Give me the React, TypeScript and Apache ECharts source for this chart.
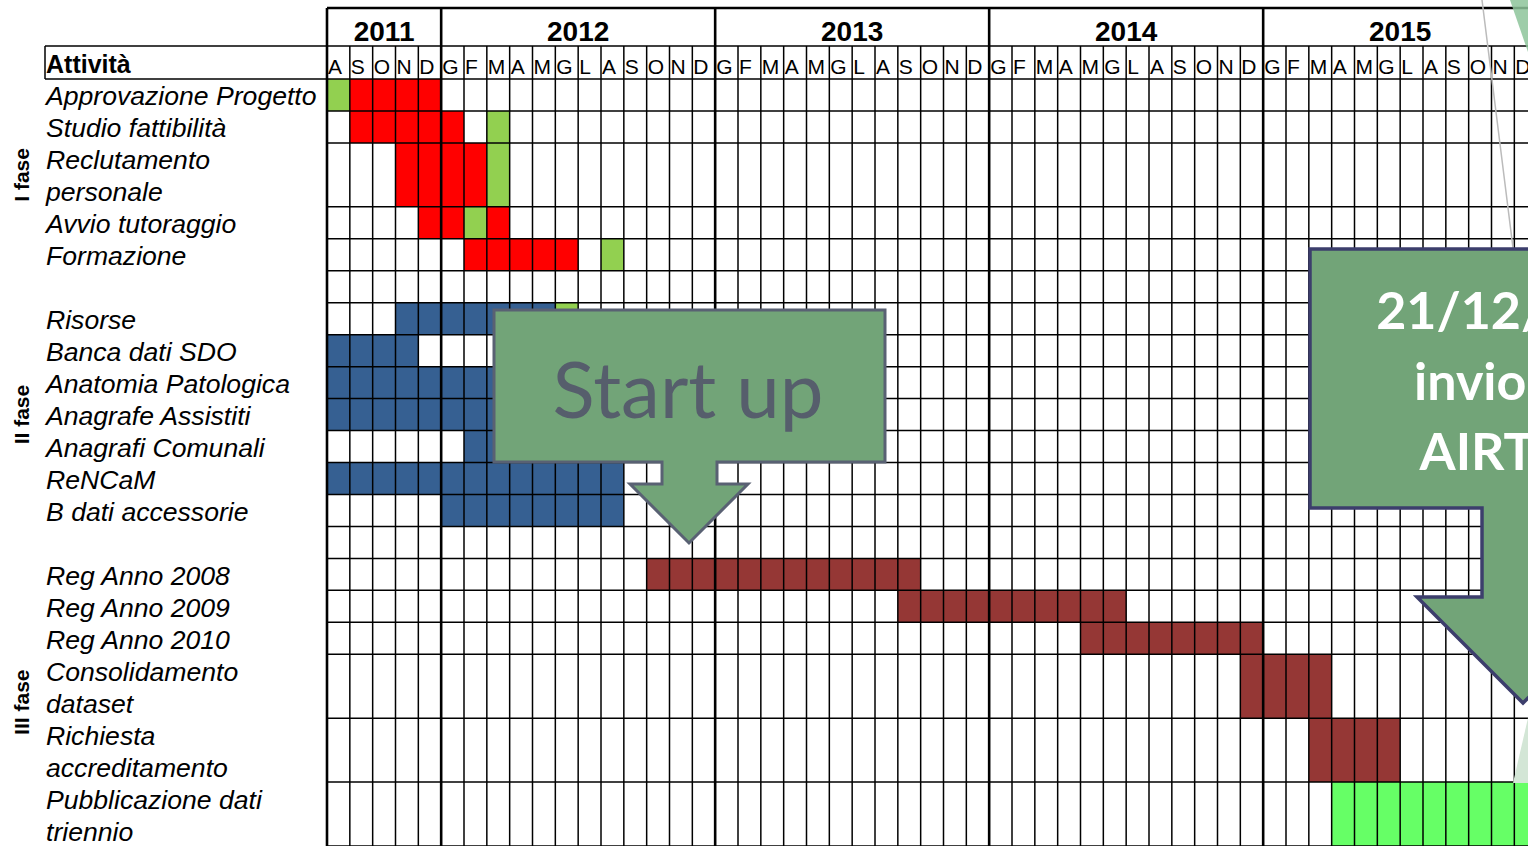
import React, { useEffect, useRef } from "react";
import * as echarts from "echarts";

// ---------- data ----------
const monthLabels = [
  "A", "S", "O", "N", "D",
  "G", "F", "M", "A", "M", "G", "L", "A", "S", "O", "N", "D",
  "G", "F", "M", "A", "M", "G", "L", "A", "S", "O", "N", "D",
  "G", "F", "M", "A", "M", "G", "L", "A", "S", "O", "N", "D",
  "G", "F", "M", "A", "M", "G", "L", "A", "S", "O", "N", "D",
];
const yearLabels = ["2011", "2012", "2013", "2014", "2015"];
const yearFirstMonth = [0, 5, 17, 29, 41];
const yearMonthCount = [5, 12, 12, 12, 12];

const activityLines = [
  ["Approvazione Progetto"],
  ["Studio fattibilità"],
  ["Reclutamento", "personale"],
  ["Avvio tutoraggio"],
  ["Formazione"],
  ["Risorse"],
  ["Banca dati SDO"],
  ["Anatomia Patologica"],
  ["Anagrafe Assistiti"],
  ["Anagrafi Comunali"],
  ["ReNCaM"],
  ["B dati accessorie"],
  ["Reg Anno 2008"],
  ["Reg Anno 2009"],
  ["Reg Anno 2010"],
  ["Consolidamento", "dataset"],
  ["Richiesta", "accreditamento"],
  ["Pubblicazione dati", "triennio"],
];
const activityRow = [0, 1, 2, 4, 5, 7, 8, 9, 10, 11, 12, 13, 15, 16, 17, 18, 20, 22];
const TOTAL_ROWS = 24;

const phaseLabels = ["I fase", "II fase", "III fase"];
const phaseFirstRow = [0, 7, 15];
const phaseEndRow = [6, 14, 24];

// [activity index, first month index, last month index]
const redCells = [[0, 1, 4], [1, 1, 5], [2, 3, 6], [3, 4, 5], [3, 7, 7], [4, 6, 10]];
const greenCells = [[0, 0, 0], [1, 7, 7], [2, 7, 7], [3, 6, 6], [4, 12, 12], [5, 10, 10]];
const blueCells = [[5, 3, 9], [6, 0, 3], [7, 0, 9], [8, 0, 9], [9, 6, 9], [10, 0, 12], [11, 5, 12]];
const brownCells = [[12, 14, 25], [13, 25, 34], [14, 33, 40], [15, 40, 43], [16, 43, 46]];
const publishCells = [[17, 44, 52]];

const callout1Text = "Start up";
const callout2Lines = ["21/12/2015", "invio dati", "AIRTUM"];

// ---------- layout ----------
const W = 1528;
const H = 846;
const GRID_LEFT = 327;
const GRID_TOP = 79;
const COL_W = 274 / 12;
const X_MAX = (W - GRID_LEFT) / COL_W;
const MONTH_ROW_H = 33;
const YEAR_ROW_H = 38;
const LABEL_X = 46;
const BOX_X = 45;
const ARIAL = "'Liberation Sans', Arial, sans-serif";
const CALIBRI = "Lato, 'Open Sans', sans-serif";

const rowBoundaries = Array.from(
  new Set(activityRow.flatMap((r, i) => [r, r + activityLines[i].length]))
).sort((a, b) => a - b);
const monthBoundaries = monthLabels.map((_, i) => i).concat([monthLabels.length]);

function cellSeries(name: string, cells: number[][], color: string) {
  return {
    type: "custom",
    name,
    z: 1,
    silent: true,
    clip: false,
    encode: { x: [0, 1], y: [2, 3] },
    data: cells.map(([a, s, e]) => [s, e + 1, activityRow[a], activityRow[a] + activityLines[a].length]),
    renderItem: (_p: any, api: any) => {
      const p0 = api.coord([api.value(0), api.value(2)]);
      const p1 = api.coord([api.value(1), api.value(3)]);
      return {
        type: "rect",
        shape: { x: p0[0], y: p0[1], width: p1[0] - p0[0], height: p1[1] - p0[1] },
        style: { fill: color },
      };
    },
  };
}

function txt(text: string, font: string, align: string, fill = "#000") {
  return {
    text,
    font,
    fill,
    align,
    verticalAlign: "middle",
    textAlign: align,
    textVerticalAlign: "middle",
  };
}

export default function App() {
  const ref = useRef<HTMLDivElement>(null);
  useEffect(() => {
    const chart = echarts.init(ref.current!, null, { renderer: "svg" });
    const option: any = {
      animation: false,
      backgroundColor: "#ffffff",
      grid: { left: GRID_LEFT, top: GRID_TOP, right: 0, bottom: -1 },
      xAxis: { type: "value", min: 0, max: X_MAX, show: false },
      yAxis: { type: "value", min: 0, max: TOTAL_ROWS, inverse: true, show: false },
      series: [
        cellSeries("Fase I", redCells, "#FF0000"),
        cellSeries("Milestone", greenCells, "#92D050"),
        cellSeries("Fase II", blueCells, "#366092"),
        cellSeries("Fase III", brownCells, "#953735"),
        cellSeries("Pubblicazione", publishCells, "#66FF66"),
        // horizontal grid lines
        {
          type: "custom",
          name: "rows",
          z: 3,
          silent: true,
          clip: false,
          data: rowBoundaries.map((r) => [r]),
          renderItem: (_p: any, api: any) => {
            const y = api.coord([0, api.value(0)])[1];
            const x2 = api.coord([X_MAX, 0])[0];
            const isTop = api.value(0) === 0;
            return {
              type: "line",
              shape: { x1: isTop ? BOX_X : GRID_LEFT, y1: y, x2, y2: y },
              style: { stroke: "#000", lineWidth: 1.5 },
            };
          },
        },
        // vertical grid lines
        {
          type: "custom",
          name: "months",
          z: 3,
          silent: true,
          clip: false,
          data: monthBoundaries.map((m) => [m]),
          renderItem: (_p: any, api: any) => {
            const m = api.value(0);
            const x = api.coord([m, 0])[0];
            const yTop = api.coord([0, 0])[1];
            const yBot = api.coord([0, TOTAL_ROWS])[1];
            const isYear = yearFirstMonth.indexOf(m) >= 0 || m === monthLabels.length;
            return {
              type: "line",
              shape: {
                x1: x,
                y1: isYear ? yTop - MONTH_ROW_H - YEAR_ROW_H : yTop - MONTH_ROW_H,
                x2: x,
                y2: yBot,
              },
              style: { stroke: "#000", lineWidth: isYear ? 2.6 : 1.5 },
            };
          },
        },
        // month letters
        {
          type: "custom",
          name: "monthLabels",
          z: 4,
          silent: true,
          clip: false,
          data: monthLabels.map((_, i) => [i]),
          renderItem: (p: any, api: any) => {
            const x = api.coord([api.value(0), 0])[0];
            const yTop = api.coord([0, 0])[1];
            return {
              type: "text",
              x: x + 1,
              y: yTop - 13,
              style: txt(monthLabels[p.dataIndex], `21px ${ARIAL}`, "left"),
            };
          },
        },
        // year labels
        {
          type: "custom",
          name: "yearLabels",
          z: 4,
          silent: true,
          clip: false,
          data: yearLabels.map((_, i) => [yearFirstMonth[i], yearFirstMonth[i] + yearMonthCount[i]]),
          renderItem: (p: any, api: any) => {
            const x0 = api.coord([api.value(0), 0])[0];
            const x1 = api.coord([api.value(1), 0])[0];
            const yTop = api.coord([0, 0])[1];
            return {
              type: "text",
              x: (x0 + x1) / 2,
              y: yTop - MONTH_ROW_H - 15,
              style: txt(yearLabels[p.dataIndex], `bold 28px ${ARIAL}`, "center"),
            };
          },
        },
        // header frame + "Attività"
        {
          type: "custom",
          name: "header",
          z: 4,
          silent: true,
          clip: false,
          data: [[0]],
          renderItem: (_p: any, api: any) => {
            const yTop = api.coord([0, 0])[1];
            const x2 = api.coord([X_MAX, 0])[0];
            const yMonth = yTop - MONTH_ROW_H;
            const yYear = yMonth - YEAR_ROW_H;
            return {
              type: "group",
              children: [
                { type: "line", shape: { x1: GRID_LEFT, y1: yYear, x2, y2: yYear }, style: { stroke: "#000", lineWidth: 2.4 } },
                { type: "line", shape: { x1: BOX_X, y1: yMonth, x2, y2: yMonth }, style: { stroke: "#000", lineWidth: 1.5 } },
                { type: "line", shape: { x1: BOX_X, y1: yMonth, x2: BOX_X, y2: yTop }, style: { stroke: "#000", lineWidth: 1.5 } },
                {
                  type: "text",
                  x: LABEL_X,
                  y: yMonth + 18,
                  style: txt("Attività", `bold 25px ${ARIAL}`, "left"),
                },
              ],
            };
          },
        },
        // activity labels
        {
          type: "custom",
          name: "activities",
          z: 4,
          silent: true,
          clip: false,
          data: activityRow.map((r) => [r]),
          renderItem: (p: any, api: any) => {
            const lines = activityLines[p.dataIndex];
            const r = api.value(0);
            return {
              type: "group",
              children: lines.map((t: string, k: number) => ({
                type: "text",
                x: LABEL_X,
                y: api.coord([0, r + k + 0.5])[1] + 1.5,
                style: txt(t, `italic 26.6px ${ARIAL}`, "left"),
              })),
            };
          },
        },
        // phase labels
        {
          type: "custom",
          name: "phases",
          z: 4,
          silent: true,
          clip: false,
          data: phaseLabels.map((_, i) => [phaseFirstRow[i], phaseEndRow[i]]),
          renderItem: (p: any, api: any) => {
            const y0 = api.coord([0, api.value(0)])[1];
            const y1 = api.coord([0, api.value(1)])[1];
            return {
              type: "text",
              x: 21,
              y: (y0 + y1) / 2,
              rotation: Math.PI / 2,
              style: txt(phaseLabels[p.dataIndex], `bold 21px ${ARIAL}`, "center"),
            };
          },
        },
      ],
      graphic: [
        // slide decorations
        {
          type: "polygon",
          z: 90,
          silent: true,
          shape: { points: [[1510, 0], [1528, 0], [1528, 52]] },
          style: { fill: "#8DC49A", opacity: 0.85 },
        },
        {
          type: "polygon",
          z: 90,
          silent: true,
          shape: { points: [[1513, 783], [1528, 783], [1528, 718]] },
          style: { fill: "#D3E6D6" },
        },
        {
          type: "line",
          z: 90,
          silent: true,
          shape: { x1: 1482, y1: 0, x2: 1513, y2: 248 },
          style: { stroke: "#BBBBBB", lineWidth: 1.5 },
        },
        // "Start up" callout
        {
          type: "polygon",
          z: 100,
          silent: true,
          shape: {
            points: [
              [494, 310], [885, 310], [885, 462], [717, 462], [717, 484], [748, 484],
              [689, 543], [630, 484], [662, 484], [662, 462], [494, 462],
            ],
          },
          style: { fill: "#72A478", stroke: "#596173", lineWidth: 3, lineJoin: "miter" },
        },
        {
          type: "text",
          z: 101,
          silent: true,
          x: 688,
          y: 388,
          style: txt(callout1Text, `78px ${CALIBRI}`, "center", "#565E6C"),
        },
        // right callout
        {
          type: "polygon",
          z: 100,
          silent: true,
          shape: {
            points: [
              [1310, 249], [1740, 249], [1740, 508], [1564, 508], [1564, 597], [1629, 597],
              [1523, 703], [1417, 597], [1482, 597], [1482, 508], [1310, 508],
            ],
          },
          style: { fill: "#72A478", stroke: "#3C3E6C", lineWidth: 3.5, lineJoin: "miter" },
        },
        ...callout2Lines.map((t, i) => ({
          type: "text",
          z: 101,
          silent: true,
          x: 1521,
          y: 309 + i * 70.5,
          style: txt(t, `bold 52px ${CALIBRI}`, "center", "#FFFFFF"),
        })),
      ],
    };
    chart.setOption(option);
    return () => chart.dispose();
  }, []);
  return (
    <div
      ref={ref}
      style={{ position: "absolute", left: 0, top: 0, width: W, height: H, background: "#fff", overflow: "hidden" }}
    />
  );
}
